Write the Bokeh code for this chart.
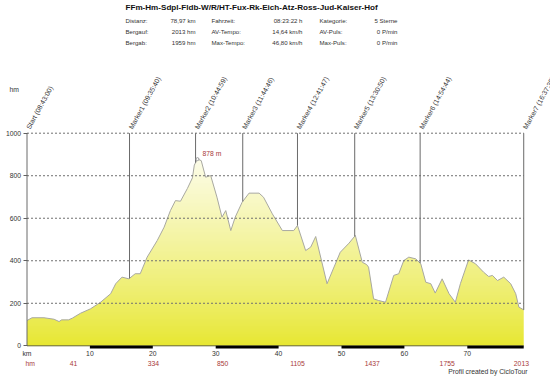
import numpy as np
from bokeh.plotting import figure
from bokeh.models import Label, FixedTicker, Range1d
from bokeh.embed import file_html
from bokeh.resources import INLINE

# ---------------- data ----------------
title_text = "FFm-Hm-Sdpl-Fldb-W/R/HT-Fux-Rk-Eich-Atz-Ross-Jud-Kaiser-Hof"
stat_names_1 = ["Distanz:", "Bergauf:", "Bergab:"]
stat_vals_1 = ["78,97 km", "2013 hm", "1959 hm"]
stat_names_2 = ["Fahrzeit:", "AV-Tempo:", "Max-Tempo:"]
stat_vals_2 = ["08:23:22 h", "14,64 km/h", "46,80 km/h"]
stat_names_3 = ["Kategorie:", "AV-Puls:", "Max-Puls:"]
stat_vals_3 = ["5 Sterne", "0 P/min", "0 P/min"]

total_km = 78.97
dist_km = [0.0, 0.8, 2.7, 4.3, 5.1, 5.5, 6.6, 7.2, 8.5, 10.1, 11.7, 13.3, 14.1,
           15.1, 16.2, 17.2, 18.0, 19.1, 20.7, 21.8, 22.8, 23.6, 24.4, 25.5,
           26.3, 26.6, 27.1, 27.7, 28.4, 29.2, 30.2, 31.0, 31.6, 32.4, 33.1,
           34.2, 35.3, 36.9, 37.6, 39.0, 40.6, 42.4, 43.0, 44.3, 45.1, 45.9,
           47.7, 49.8, 51.2, 52.2, 53.3, 54.0, 54.3, 55.1, 55.9, 57.0, 58.3,
           59.1, 59.9, 60.7, 61.8, 62.6, 63.4, 64.2, 64.9, 66.0, 67.1, 68.1,
           68.9, 70.2, 71.3, 72.6, 73.4, 74.0, 74.8, 75.8, 76.9, 77.7, 78.2,
           78.97]
elev_m = [119, 132, 132, 125, 114, 122, 122, 130, 153, 174, 205, 245, 292,
          323, 315, 339, 339, 417, 495, 558, 636, 683, 680, 740,
          790, 850, 878, 871, 793, 801, 699, 605, 636, 542, 605,
          675, 718, 718, 699, 621, 542, 542, 566, 448, 464, 514,
          292, 440, 483, 519, 393, 382, 370, 221, 213, 205, 331,
          339, 401, 417, 409, 386, 299, 292, 248, 315, 245, 205,
          292, 404, 386, 346, 326, 331, 307, 323, 292, 245, 182,
          169]

marker_names = ["Start (08:43:00)", "Marker1 (09:35:40)", "Marker2 (10:44:59)",
                "Marker3 (11:44:46)", "Marker4 (12:41:47)", "Marker5 (13:30:50)",
                "Marker6 (14:54:44)", "Marker7 (16:37:35)"]
marker_km = [0.0, 16.3, 26.8, 34.3, 43.0, 52.1, 62.5, 78.97]

hm_km = [7.4, 20.1, 31.1, 43.0, 54.9, 66.8, 78.6]
hm_vals = ["41", "334", "850", "1105", "1437", "1755", "2013"]

x_ticks = [0, 10, 20, 30, 40, 50, 60, 70]
y_ticks = [0, 200, 400, 600, 800, 1000]
grid_ticks = [200, 400, 600, 800, 1000]

peak_km = 27.1
peak_m = 878

# ---------------- layout ----------------
W, H = 550, 376
FONT = "Liberation Sans"
TXT = "#333333"
RED = "#a83a3a"
PX_PER_KM = 6.29
X0_PX = 26.5          # canvas x of km 0
PX_PER_M = 0.2126
Y0_PX = 345.3         # canvas y of 0 m
BAR_BOTTOM = -13      # depth of the distance bars (m)
TOP_M = 1000

x_range = Range1d(-X0_PX / PX_PER_KM, (W - X0_PX) / PX_PER_KM)
y_range = Range1d((Y0_PX - H) / PX_PER_M, Y0_PX / PX_PER_M)

p = figure(width=W, height=H, x_range=x_range, y_range=y_range,
           output_backend="svg", toolbar_location=None,
           min_border=0, min_border_left=0, min_border_right=0,
           min_border_top=0, min_border_bottom=0)
p.title.visible = False
p.outline_line_color = None
p.background_fill_color = "white"
p.border_fill_color = "white"
p.grid.visible = False


def kx(px):
    return (px - X0_PX) / PX_PER_KM


def my(py):
    return (Y0_PX - py) / PX_PER_M


# gradient fill: image under profile, masked above by white
N = 250
img = np.zeros((N, 1), dtype=np.uint32)
view = img.view(dtype=np.uint8).reshape((N, 1, 4))
t = ((np.arange(N) + 0.5) / N) ** 0.85
bottom = np.array([231, 231, 48])
top = np.array([255, 255, 255])
for i in range(N):
    c = bottom + (top - bottom) * t[i]
    view[i, 0, 0] = int(c[0])
    view[i, 0, 1] = int(c[1])
    view[i, 0, 2] = int(c[2])
    view[i, 0, 3] = 255
p.image_rgba(image=[img], x=0, y=0, dw=total_km, dh=TOP_M)

xs = np.array(dist_km)
ys = np.array(elev_m)
p.varea(x=xs, y1=ys, y2=TOP_M + 5, fill_color="white")
p.line(xs, ys, line_color="#a8a8a0", line_width=1)

# dotted grid across the profile area only
p.segment(x0=[0] * len(grid_ticks), x1=[total_km] * len(grid_ticks),
          y0=grid_ticks, y1=grid_ticks, line_color="#707070",
          line_dash="2 2", line_width=1)

# baseline + alternating bars on the distance axis
p.segment(x0=[0], x1=[total_km], y0=[0], y1=[0], line_color="#666633", line_width=1)
bar_left = x_ticks[1::2]
bar_right = list(x_ticks[2::2]) + [total_km]
p.quad(left=bar_left, right=bar_right, bottom=BAR_BOTTOM, top=0,
       fill_color="black", line_color=None)

# marker lines (Start marker doubles as the left edge down to 0)
mk_bottom = np.interp(marker_km, xs, ys)
mk_bottom[0] = 0
p.segment(x0=marker_km, x1=marker_km, y0=[TOP_M] * len(marker_km), y1=mk_bottom,
          line_color="#6a6a6a", line_width=1)

# peak
p.scatter([peak_km], [peak_m], size=3, marker="circle",
          line_color="#999999", fill_color="white")

# axes drawn at fixed data locations inside the canvas
p.xaxis.fixed_location = BAR_BOTTOM
p.xaxis.ticker = FixedTicker(ticks=x_ticks)
p.xaxis.major_label_overrides = {0: "km"}
p.xaxis.axis_line_color = None
p.xaxis.major_tick_line_color = None
p.xaxis.minor_tick_line_color = None
p.xaxis.major_tick_out = 0
p.xaxis.major_label_standoff = 1
p.xaxis.major_label_text_font = FONT
p.xaxis.major_label_text_font_size = "6.8px"
p.xaxis.major_label_text_color = TXT

p.yaxis.fixed_location = 0
p.yaxis.ticker = FixedTicker(ticks=y_ticks)
p.yaxis.axis_line_color = None
p.yaxis.major_tick_line_color = "#606060"
p.yaxis.major_tick_out = 4
p.yaxis.major_tick_in = 0
p.yaxis.minor_tick_line_color = None
p.yaxis.major_label_standoff = 2
p.yaxis.major_label_text_font = FONT
p.yaxis.major_label_text_font_size = "6.8px"
p.yaxis.major_label_text_color = TXT


def lab(x, y, text, size="6.1px", color=TXT, align="left", baseline="middle",
        style="normal", angle=0.0):
    p.add_layout(Label(x=x, y=y, text=text, text_font=FONT, text_font_size=size,
                       text_color=color, text_align=align, text_baseline=baseline,
                       text_font_style=style, angle=angle))


# title and statistics
lab(kx(125), my(7), title_text, size="8.1px", color="#111111", style="bold")
row_y = [20, 31, 42]
for i in range(3):
    yy = my(row_y[i])
    lab(kx(125), yy, stat_names_1[i])
    lab(kx(195), yy, stat_vals_1[i], align="right")
    lab(kx(211), yy, stat_names_2[i])
    lab(kx(302), yy, stat_vals_2[i], align="right")
    lab(kx(319), yy, stat_names_3[i])
    lab(kx(397), yy, stat_vals_3[i], align="right")

# unit label
lab(kx(9), my(89), "hm", size="6.8px")

# marker labels
for name, km in zip(marker_names, marker_km):
    lab(km + 0.15, TOP_M + 22, name, size="6.9px", angle=np.deg2rad(61))

# peak label
lab(peak_km + 0.8, peak_m + 27, f"{peak_m} m", size="6.8px", color=RED)

# cumulative climb row
lab(kx(25), my(363), "hm", size="6.8px", color=RED)
for km, v in zip(hm_km, hm_vals):
    lab(km, my(363), v, size="6.8px", color=RED, align="center")

# credit
lab(kx(527), my(371), "Profil created by CicloTour", size="6.8px", align="right")

open("out.html", "w").write(file_html(p, INLINE))
